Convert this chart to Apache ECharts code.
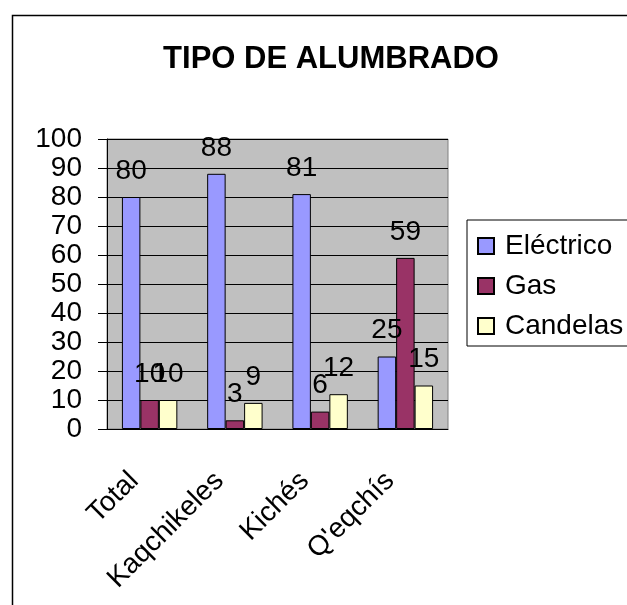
<!DOCTYPE html>
<html>
<head>
<meta charset="utf-8">
<script src="https://cdn.jsdelivr.net/npm/echarts@6/dist/echarts.min.js"></script>
<style>
  html, body { margin: 0; padding: 0; background: #fff; }
  #chart { width: 627px; height: 605px; }
</style>
</head>
<body>
<div id="chart"></div>
<script>
const categories = ['Total', 'Kaqchikeles', 'Kichés', "Q'eqchís"];
const electrico = [80, 88, 81, 25];
const gas = [10, 3, 6, 59];
const candelas = [10, 9, 12, 15];
const yTicks = [0, 10, 20, 30, 40, 50, 60, 70, 80, 90, 100];

const FONT = 'Liberation Sans, Arial, sans-serif';

function barSeries(name, data, color) {
    return {
        name: name,
        type: 'bar',
        data: data,
        barGap: '0%',
        barCategoryGap: '35%',
        itemStyle: { color: color, borderColor: '#000', borderWidth: 1 },
        label: {
            show: true,
            position: 'top',
            distance: 12,
            color: '#000',
            fontFamily: FONT,
            fontSize: 28
        }
    };
}

const myChart = echarts.init(document.getElementById('chart'));

const option = {
    backgroundColor: '#fff',
    animation: false,
    title: {
        text: 'TIPO DE ALUMBRADO',
        left: 326,
        top: 39,
        textAlign: 'center',
        textStyle: { fontFamily: FONT, fontSize: 31, fontWeight: 'bold', color: '#000' }
    },
    graphic: [{
        type: 'rect',
        shape: { x: 12.5, y: 15.5, width: 700, height: 700 },
        style: { fill: 'none', stroke: '#000', lineWidth: 1.5 },
        silent: true
    }],
    legend: {
        orient: 'vertical',
        left: 467,
        top: 220,
        padding: [12, 40, 6, 10],
        icon: 'rect',
        itemWidth: 16,
        itemHeight: 16,
        itemGap: 12,
        borderColor: '#000',
        borderWidth: 1,
        backgroundColor: '#fff',
        textStyle: { fontFamily: FONT, fontSize: 28, color: '#000', padding: [0, 0, 0, 6] },
        data: ['Eléctrico', 'Gas', 'Candelas']
    },
    grid: {
        left: 107,
        right: 179,
        top: 139,
        bottom: 176,
        show: true,
        backgroundColor: '#c0c0c0',
        borderColor: '#808080',
        borderWidth: 1
    },
    xAxis: {
        type: 'category',
        data: categories,
        axisLine: { lineStyle: { color: '#000' } },
        axisTick: { length: 9, lineStyle: { color: '#000' } },
        axisLabel: {
            rotate: 45,
            margin: 32,
            padding: [0, 22, 0, 0],
            color: '#000',
            fontFamily: FONT,
            fontSize: 28
        }
    },
    yAxis: {
        type: 'value',
        min: yTicks[0],
        max: yTicks[yTicks.length - 1],
        interval: 10,
        axisLine: { show: true, lineStyle: { color: '#000' } },
        axisTick: { show: true, length: 9, lineStyle: { color: '#000' } },
        splitLine: { lineStyle: { color: '#000', width: 1 } },
        axisLabel: {
            margin: 25,
            color: '#000',
            fontFamily: FONT,
            fontSize: 28
        }
    },
    series: [
        barSeries('Eléctrico', electrico, '#9999ff'),
        barSeries('Gas', gas, '#993366'),
        barSeries('Candelas', candelas, '#ffffcc')
    ]
};

myChart.setOption(option);

window.addEventListener('resize', () => {
    myChart?.resize();
});
</script>
</body>
</html>
